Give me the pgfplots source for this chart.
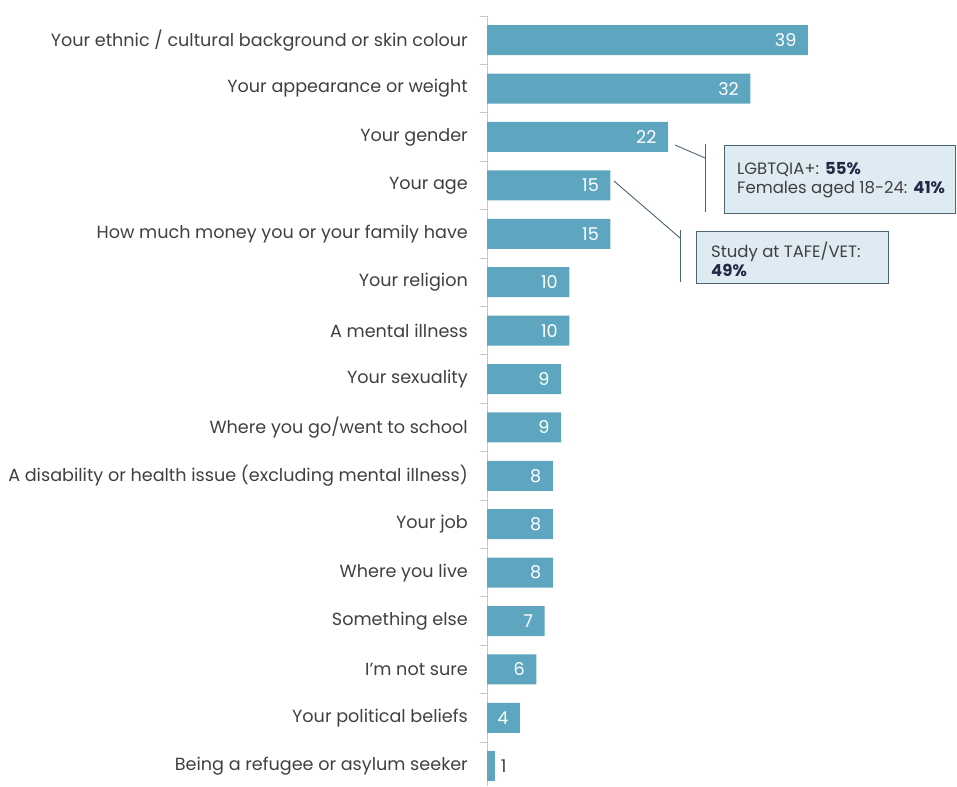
\documentclass[border=0pt]{standalone}
\usepackage{pgfplots}
\pgfplotsset{compat=1.18}
\usepackage{fontspec}
\setmainfont{Poppins}
\definecolor{barcol}{HTML}{5EA6C0}
\definecolor{axcol}{HTML}{D9BFCB}
\definecolor{txt}{HTML}{404040}
\definecolor{boxfill}{HTML}{DEEBF3}
\definecolor{boxdraw}{HTML}{4C6575}
\definecolor{boldtxt}{HTML}{1F2A44}
\newcommand{\lblfont}{\fontsize{17.6}{21}\selectfont}
\newcommand{\boxfont}{\fontsize{16.5}{19}\selectfont}
\begin{document}
\begin{tikzpicture}
\useasboundingbox (0,0) rectangle (957pt,786pt);
\begin{axis}[
  at={(487pt,770pt)}, anchor=north west,
  scale only axis, width=469pt, height=770pt,
  xmin=0, xmax=57, ymin=-0.5, ymax=15.409, y dir=reverse,
  xbar, bar width=30pt, bar shift=0pt,
  axis x line=none, axis y line=left,
  y axis line style={draw=axcol, line width=0.8pt, -},
  ytick={0,...,15},
  yticklabels={Your ethnic / cultural background or skin colour,
    Your appearance or weight, Your gender, Your age,
    How much money you or your family have, Your religion,
    A mental illness, Your sexuality, Where you go/went to school,
    A disability or health issue (excluding mental illness),
    Your job, Where you live, Something else, I’m not sure,
    Your political beliefs, Being a refugee or asylum seeker},
  major tick length=0pt,
  minor ytick={-0.5,0.5,...,14.5}, minor tick length=7pt, tick align=outside,
  minor tick style={draw=axcol, line width=0.8pt},
  yticklabel style={font=\lblfont, text=txt, inner sep=0pt, xshift=-19pt},
  /pgf/number format/assume math mode=true,
  clip=false,
]
\addplot[fill=barcol, draw=none, point meta=x, nodes near coords,
  nodes near coords style={anchor=east, xshift=-8pt, text=white, font=\lblfont,
    /pgf/number format/assume math mode=true}]
  coordinates {(39,0) (32,1) (22,2) (15,3) (15,4) (10,5) (10,6) (9,7) (9,8)
               (8,9) (8,10) (8,11) (7,12) (6,13) (4,14)};
\addplot[fill=barcol, draw=none, point meta=x, nodes near coords,
  nodes near coords style={anchor=west, xshift=2pt, text=txt, font=\lblfont,
    /pgf/number format/assume math mode=true}]
  coordinates {(1,15)};
\end{axis}
\begin{scope}[x=1pt, y=-1pt, yshift=786pt]
  \draw[boxdraw, line width=0.9pt] (675,145) -- (705,158);
  \draw[boxdraw, line width=0.9pt] (705,144) -- (705,212);
  \draw[boxdraw, fill=boxfill, line width=0.9pt] (724,145) rectangle (955,213);
  \node[anchor=west, font=\boxfont, text=txt, align=left, inner sep=0pt] at (737,180)
    {LGBTQIA+: {\bfseries\color{boldtxt}55\%}\\Females aged 18-24: {\bfseries\color{boldtxt}41\%}};
  \draw[boxdraw, line width=0.9pt] (614,181) -- (680,238);
  \draw[boxdraw, line width=0.9pt] (680,230) -- (680,282);
  \draw[boxdraw, fill=boxfill, line width=0.9pt] (696,231) rectangle (888,283);
  \node[anchor=west, font=\boxfont, text=txt, align=left, inner sep=0pt] at (711,259)
    {Study at TAFE/VET:\\{\bfseries\color{boldtxt}49\%}};
\end{scope}
\end{tikzpicture}
\end{document}
